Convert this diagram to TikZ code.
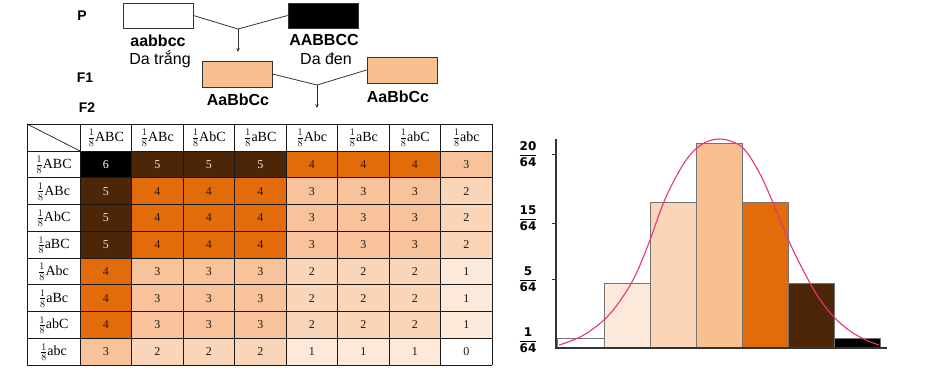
\documentclass[tikz,border=0pt]{standalone}
\usepackage{fontspec}
\setmainfont{Liberation Serif}
\newfontfamily\sansf{Liberation Sans}
\newfontfamily\dvs{DejaVu Sans}
\usetikzlibrary{arrows.meta}
\definecolor{v0}{HTML}{FFFFFF}
\definecolor{v1}{HTML}{FDE9D9}
\definecolor{v2}{HTML}{FAD5B8}
\definecolor{v3}{HTML}{F8C39A}
\definecolor{v4}{HTML}{E36C0A}
\definecolor{v5}{HTML}{4D2507}
\definecolor{v6}{HTML}{000000}
\definecolor{t0}{HTML}{1A1A1A}
\definecolor{t1}{HTML}{1A1A1A}
\definecolor{t2}{HTML}{1A1A1A}
\definecolor{t3}{HTML}{1A1A1A}
\definecolor{t4}{HTML}{2A1A10}
\definecolor{t5}{HTML}{F2E6DA}
\definecolor{t6}{HTML}{FFFFFF}
\definecolor{hist3}{HTML}{F9BF8F}
\definecolor{pinkc}{HTML}{E8337E}
\definecolor{f1fill}{HTML}{F8C08E}
\tikzset{
  genbox/.style={draw=black!80, line width=0.8pt},
  lbl/.style={font=\sansf\bfseries\fontsize{14}{16}\selectfont, inner sep=0pt},
  geno/.style={font=\sansf\bfseries\fontsize{16}{18}\selectfont, inner sep=0pt},
  pheno/.style={font=\sansf\fontsize{16}{18}\selectfont, inner sep=0pt},
  cross/.style={draw=black!80, line width=0.8pt},
  downarrow/.style={draw=black!80, line width=0.8pt, -{Stealth[length=4pt,width=3.5pt]}},
  hdr/.style={font=\fontsize{14}{16}\selectfont, inner sep=0pt},
  num/.style={font=\fontsize{12}{14}\selectfont, inner sep=0pt},
  gridline/.style={draw=black!90, line width=0.7pt},
  bar/.style={draw=black!55, line width=0.7pt},
  axisline/.style={draw=black!80, line width=1.6pt},
  yfrac/.style={font=\dvs\bfseries\fontsize{12}{13}\selectfont, inner sep=0pt},
}
\begin{document}
\begin{tikzpicture}[x=1pt,y=-1pt]
\useasboundingbox (0,0) rectangle (937,384);

% ---------- cross diagram ----------
\node[lbl] (P) at (82,16) {P};
\node[lbl] (F1) at (85,78) {F1};
\node[lbl] (F2) at (87,108) {F2};

\node[genbox, fill=white, minimum width=70pt, minimum height=25pt, inner sep=0pt] (pw) at (158,15.5) {};
\node[genbox, fill=black, minimum width=70pt, minimum height=25pt, inner sep=0pt] (pb) at (323,15.5) {};
\node[geno] (gw) at (158,41) {aabbcc};
\node[pheno] (phw) at (160,59) {Da trắng};
\node[geno] (gb) at (324,40) {AABBCC};
\node[pheno] (phb) at (326,59) {Da đen};
\coordinate (j1) at (238,29);
\coordinate (a1) at (238,52);
\draw[cross] (pw.east) -- (j1) -- (pb.west);
\draw[downarrow] (j1) -- (a1);

\node[genbox, fill=f1fill, minimum width=70pt, minimum height=26pt, inner sep=0pt] (f1a) at (237,74) {};
\node[genbox, fill=f1fill, minimum width=70pt, minimum height=26pt, inner sep=0pt] (f1b) at (402,70) {};
\node[geno] (ga) at (238,100) {AaBbCc};
\node[geno] (gbb) at (398,97) {AaBbCc};
\coordinate (j2) at (317,85);
\coordinate (a2) at (317,108);
\draw[cross] (f1a.east) -- (j2) -- (f1b.west);
\draw[downarrow] (j2) -- (a2);

% ---------- Punnett table ----------
\foreach \r/\rv in {1/3,2/2,3/2,4/2,5/1,6/1,7/1,8/0}{
  \foreach \c/\cv in {1/3,2/2,3/2,4/2,5/1,6/1,7/1,8/0}{
    \pgfmathtruncatemacro\v{\rv+\cv}
    \fill[v\v] ({80+(\c-1)*51.5},{151+(\r-1)*26.75}) rectangle ({80+\c*51.5},{151+\r*26.75});
    \node[num, text=t\v] (n\r\c) at ({80+(\c-0.5)*51.5},{151+(\r-0.5)*26.75}) {\v};
  }
}
\foreach \c/\g in {1/ABC,2/ABc,3/AbC,4/aBC,5/Abc,6/aBc,7/abC,8/abc}{
  \node[hdr] (h\c) at ({80+(\c-0.5)*51.5},138) {$\frac{1}{8}$\g};
  \node[hdr] (r\c) at (53.5,{151.5+(\c-0.5)*26.75}) {$\frac{1}{8}$\g};
}
\foreach \c in {0,...,8}{
  \draw[gridline] ({80+\c*51.5},124) -- ({80+\c*51.5},365);
}
\draw[gridline] (27,124) -- (27,365);
\draw[gridline] (27,124) -- (492,124);
\foreach \r in {0,...,8}{
  \draw[gridline] (27,{151+\r*26.75}) -- (492,{151+\r*26.75});
}
\draw[gridline] (27,124) -- (80,151);

% ---------- histogram ----------
\draw[bar, fill=v0] (557,338) rectangle (604,348);
\draw[bar, fill=v1] (604,283) rectangle (650,348);
\draw[bar, fill=v2] (650,202) rectangle (696,348);
\draw[bar, fill=hist3] (696,143) rectangle (742,348);
\draw[bar, fill=v4] (742,202) rectangle (788,348);
\draw[bar, fill=v5] (788,283) rectangle (834,348);
\draw[bar, fill=black] (834,338) rectangle (880,348);

\draw[pinkc, line width=1.1pt] plot[smooth, tension=0.6] coordinates {
 (559,345) (582,336) (605,319) (622,298) (636,274) (650,240) (663,204)
 (677,175) (690,155) (704,143) (719,139) (733,142) (745,150) (760,174)
 (774,205) (788,239) (802,268) (817,295) (833,316) (850,331) (866,340) (879,345)};

\draw[axisline] (556,139) -- (556,348) -- (887,348);
\foreach \yy in {154,223,279}{
  \draw[draw=black!80, line width=0.8pt] (552,\yy) -- (556,\yy);
}
\node[yfrac] (y20) at (528,154) {$\displaystyle\frac{\mbox{\dvs\bfseries 20}}{\mbox{\dvs\bfseries 64}}$};
\node[yfrac] (y15) at (528,218) {$\displaystyle\frac{\mbox{\dvs\bfseries 15}}{\mbox{\dvs\bfseries 64}}$};
\node[yfrac] (y5) at (528,279) {$\displaystyle\frac{\mbox{\dvs\bfseries 5}}{\mbox{\dvs\bfseries 64}}$};
\node[yfrac] (y1) at (528,340) {$\displaystyle\frac{\mbox{\dvs\bfseries 1}}{\mbox{\dvs\bfseries 64}}$};
\end{tikzpicture}
\end{document}
